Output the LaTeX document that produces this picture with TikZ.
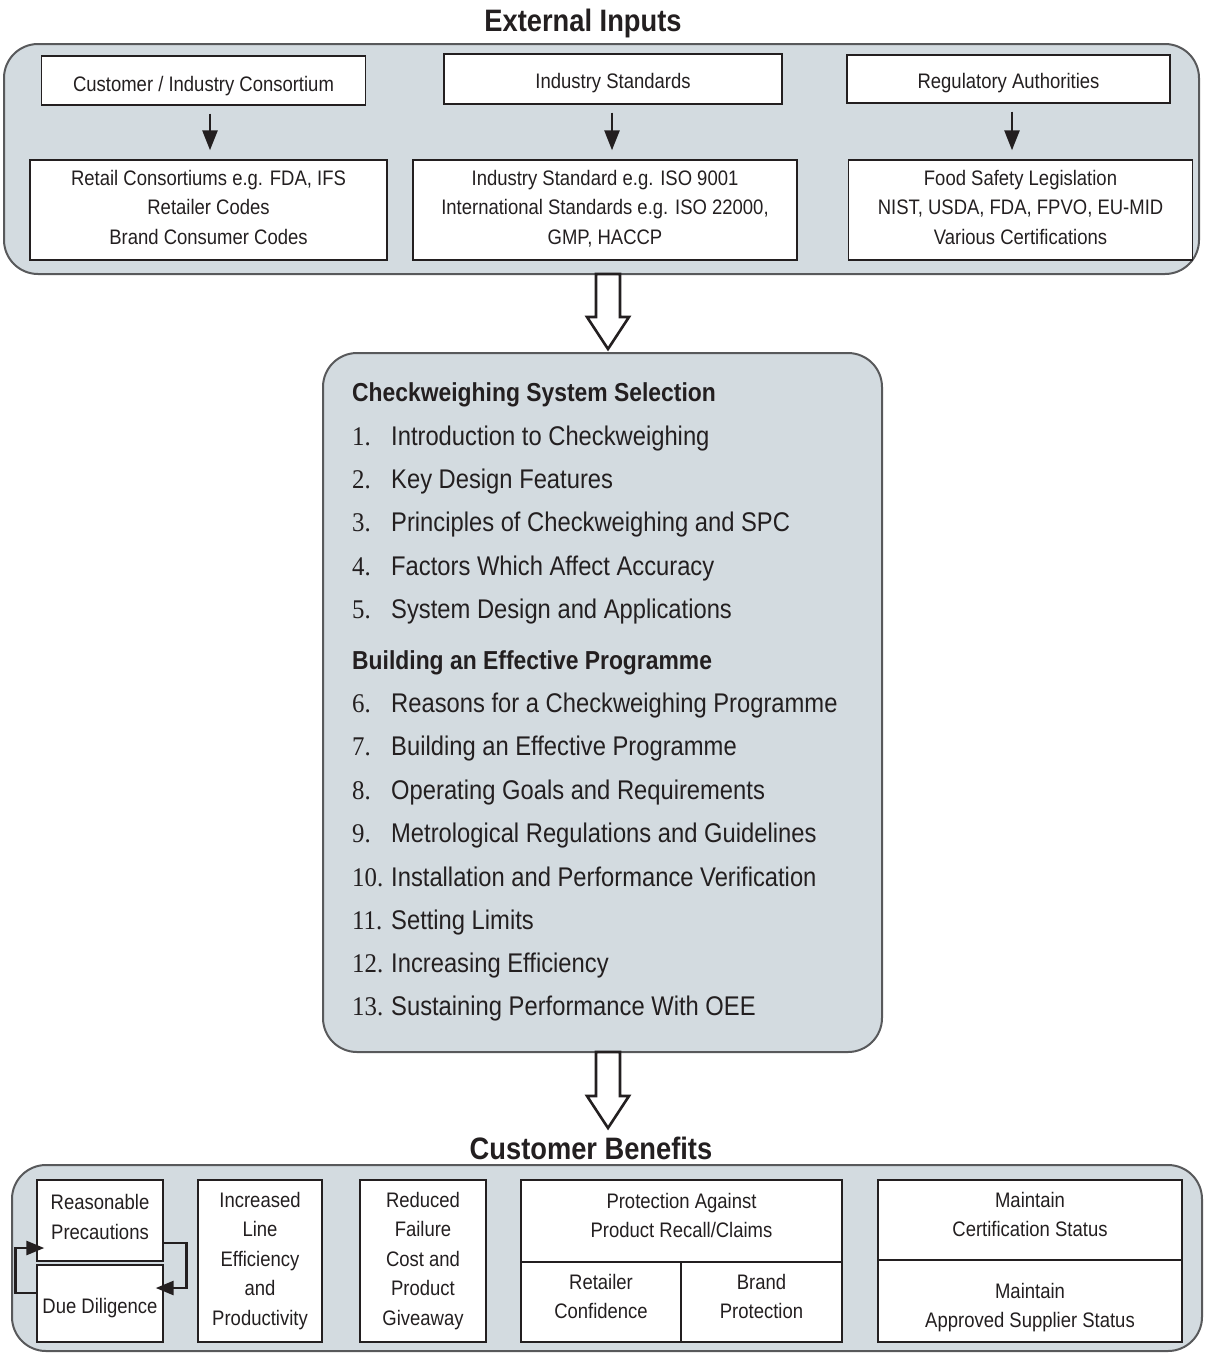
\documentclass[tikz,border=0pt]{standalone}
\usepackage{fontspec}
\setmainfont[FakeStretch=0.88]{Liberation Sans}
\newfontfamily\numfont[FakeStretch=0.92]{Liberation Serif}
\usetikzlibrary{arrows.meta,positioning,calc}
\definecolor{panelfill}{RGB}{211,219,224}
\definecolor{panelline}{RGB}{88,89,91}
\definecolor{ink}{RGB}{35,31,32}
\newcommand{\shiftt}[2]{\raisebox{#1}[\height][\depth]{\begin{tabular}{@{}c@{}}#2\end{tabular}}}
\begin{document}
\begin{tikzpicture}[x=1pt,y=-1pt,
  panel/.style={draw=panelline, line width=2pt, fill=panelfill, rounded corners=34pt, inner sep=0pt},
  box/.style={draw=ink, line width=1.4pt, fill=white, inner sep=0pt, align=center, text=ink, font=\fontsize{21}{29.5}\selectfont},
  arr/.style={draw=ink, line width=2.6pt, -{Triangle[length=20pt,width=15pt]}, shorten <=8pt, shorten >=9pt},
  looparr/.style={draw=ink, line width=2.8pt, -{Triangle[length=18pt,width=14pt]}, shorten >=-8pt},
  hollow/.style={draw=ink, line width=2.6pt, fill=white, line join=miter},
  title/.style={font=\fontsize{31}{31}\selectfont\bfseries, text=ink, anchor=base, inner sep=0pt},
  head/.style={font=\fontsize{26}{26}\selectfont\bfseries, text=ink, anchor=base west, inner sep=0pt},
  item/.style={font=\fontsize{27}{27}\selectfont, text=ink, anchor=base west, inner sep=0pt},
  num/.style={font=\numfont\fontsize{27}{27}\selectfont, text=ink, anchor=base west, inner sep=0pt}]
\useasboundingbox (0,0) rectangle (1205,1353);

% ---------- External inputs ----------
\node[title] (t1) at (583,31) {External Inputs};
\node[panel, minimum width=1195pt, minimum height=230pt] (ext) at (601.5,159) {};

\node[box, minimum width=324pt, minimum height=49pt] (a1) at (203.5,80.5) {\shiftt{-5pt}{Customer / Industry Consortium}};
\node[box, minimum width=338pt, minimum height=50pt] (b1) at (613,79) {\shiftt{-4pt}{Industry Standards}};
\node[box, minimum width=323pt, minimum height=48pt] (c1) at (1008.5,79) {\shiftt{-4pt}{Regulatory Authorities}};

\node[box, minimum width=357pt, minimum height=100pt] (a2) at (208.5,210) {\shiftt{1pt}{Retail Consortiums e.g. FDA, IFS\\Retailer Codes\\Brand Consumer Codes}};
\node[box, minimum width=384pt, minimum height=100pt] (b2) at (605,210) {\shiftt{1pt}{Industry Standard e.g. ISO 9001\\International Standards e.g. ISO 22000,\\GMP, HACCP}};
\node[box, minimum width=344pt, minimum height=100pt] (c2) at (1020.5,210) {\shiftt{1pt}{Food Safety Legislation\\NIST, USDA, FDA, FPVO, EU-MID\\Various Certifications}};

\draw[arr] ([xshift=6.5pt]a1.south) -- ([xshift=1.5pt]a2.north);
\draw[arr] ([xshift=-1pt]b1.south) -- ([xshift=7pt]b2.north);
\draw[arr] ([xshift=3.5pt]c1.south) -- ([xshift=-8.5pt]c2.north);

% hollow arrow 1
\draw[hollow] (596,274) -- (596,317) -- (587,317) -- (608,349) -- (629,317) -- (620,317) -- (620,274) -- cycle;

% ---------- Middle panel ----------
\node[panel, minimum width=559pt, minimum height=699pt] (mid) at (602.5,702.5) {};

\node[head] (h1) at (352,401) {Checkweighing System Selection};
\foreach \n/\t/\y in {1/Introduction to Checkweighing/445,
                      2/Key Design Features/488,
                      3/Principles of Checkweighing and SPC/531.5,
                      4/Factors Which Affect Accuracy/575,
                      5/System Design and Applications/618,
                      6/Reasons for a Checkweighing Programme/712,
                      7/Building an Effective Programme/755,
                      8/Operating Goals and Requirements/799,
                      9/Metrological Regulations and Guidelines/842,
                      10/Installation and Performance Verification/886,
                      11/Setting Limits/929,
                      12/Increasing Efficiency/972,
                      13/Sustaining Performance With OEE/1015}{
  \node[num] (n\n) at (352,\y) {\n.};
  \node[item] (i\n) at (391,\y) {\t};
}
\node[head] (h2) at (352,669) {Building an Effective Programme};

% hollow arrow 2
\draw[hollow] (596,1052) -- (596,1096) -- (587,1096) -- (608,1128) -- (629,1096) -- (620,1096) -- (620,1052) -- cycle;

% ---------- Customer benefits ----------
\node[title] (t2) at (591,1159) {Customer Benefits};
\node[panel, minimum width=1190pt, minimum height=186pt] (ben) at (607,1258) {};

\node[box, minimum width=126pt, minimum height=81pt] (rp) at (100,1220.5) {\shiftt{2pt}{Reasonable\\Precautions}};
\node[box, minimum width=126pt, minimum height=77pt] (dd) at (100,1303.5) {\shiftt{-4pt}{Due Diligence}};
\node[box, minimum width=124pt, minimum height=162pt] (il) at (260,1261) {Increased\\Line\\Efficiency\\and\\Productivity};
\node[box, minimum width=126pt, minimum height=162pt] (rf) at (423,1261) {Reduced\\Failure\\Cost and\\Product\\Giveaway};

\node[box, minimum width=321pt, minimum height=82pt] (pr) at (681.5,1221) {\shiftt{4pt}{Protection Against\\Product Recall/Claims}};
\node[box, minimum width=160pt, minimum height=80pt] (rc) at (601,1302) {\shiftt{4pt}{Retailer\\Confidence}};
\node[box, minimum width=161pt, minimum height=80pt] (bp) at (761.5,1302) {\shiftt{4pt}{Brand\\Protection}};

\node[box, minimum width=304pt, minimum height=80pt] (mc) at (1030,1220) {\shiftt{4pt}{Maintain\\Certification Status}};
\node[box, minimum width=304pt, minimum height=82pt] (ms) at (1030,1301) {\shiftt{-6pt}{Maintain\\Approved Supplier Status}};

\draw[looparr] ([yshift=-22.5pt]rp.east) -- ++(23,0) |- ([yshift=15.5pt]dd.east);
\draw[looparr] ([yshift=10.5pt]dd.west) -- ++(-21,0) |- ([yshift=-27.5pt]rp.west);
\end{tikzpicture}
\end{document}
